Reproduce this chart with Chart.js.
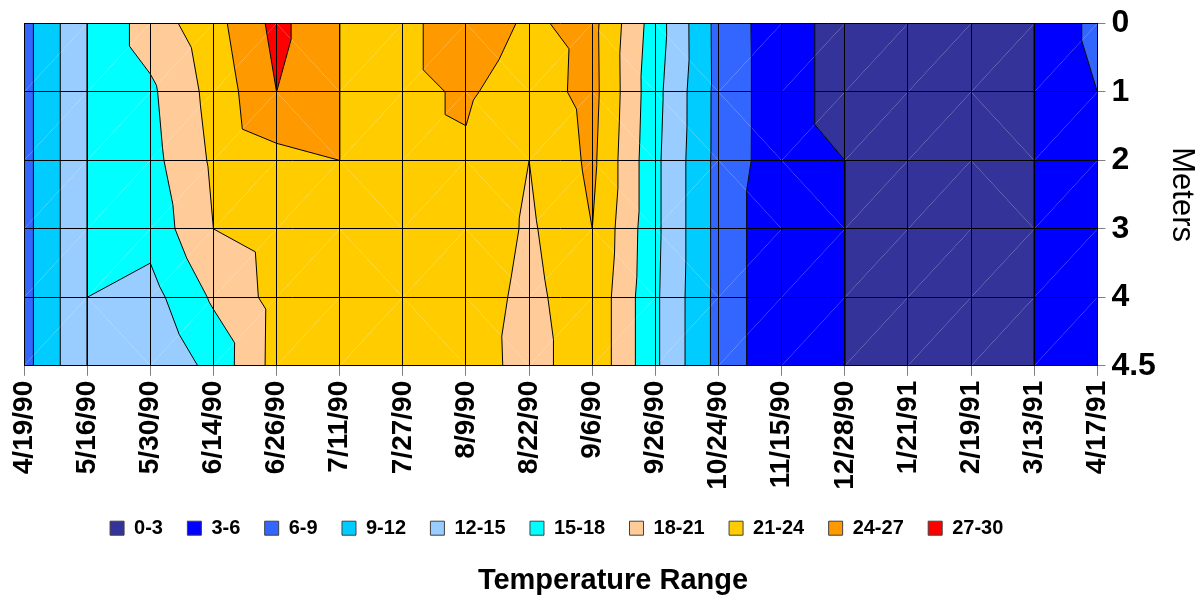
<!DOCTYPE html>
<html>
<head>
<meta charset="utf-8">
<title>Temperature Range</title>
<script src="https://cdn.jsdelivr.net/npm/chart.js@4.4.1/dist/chart.umd.min.js"></script>
<style>
  html, body { margin: 0; padding: 0; background: #fff; }
</style>
</head>
<body>
<canvas id="chart" width="1202" height="598"></canvas>
<script>
// Sampling dates along the x axis
const dates = ['4/19/90', '5/16/90', '5/30/90', '6/14/90', '6/26/90', '7/11/90', '7/27/90', '8/9/90', '8/22/90',
    '9/6/90', '9/26/90', '10/24/90', '11/15/90', '12/28/90', '1/21/91', '2/19/91', '3/13/91', '4/17/91'];

// Depth rows (meters), drawn as evenly spaced categories
const depthLabels = ['0', '1', '2', '3', '4', '4.5'];

// Water temperature (deg C) per date, one array per depth
const temp0m  = [7.95, 15, 19.48, 22.9, 27.9, 24, 23.19, 25.7, 23.55, 24.9, 16.5, 8.0, 4.1, 2.0, 1.6, 1.5, 3, 6.99];
const temp1m  = [7.95, 15, 17.47, 22.02, 27, 24, 23.19, 24.4, 22.46, 25.0, 15.96, 8.06, 4.1, 2.0, 1.6, 1.5, 3, 6];
const temp2m  = [7.95, 15, 17.04, 21.47, 23.0, 24, 23.19, 23.59, 21, 24.64, 15.68, 8.04, 4.1, 3, 1.7, 1.6, 3, 5.0];
const temp3m  = [7.95, 15, 16.07, 21, 22.3, 23.0, 22.8, 23.5, 20.52, 24, 15.68, 8.04, 3.45, 3, 1.8, 1.7, 3, 4.8];
const temp4m  = [7.95, 15, 13.93, 18.43, 22.04, 22.6, 22.6, 22.95, 20.0, 23.38, 15.5, 8.04, 3.45, 3, 1.8, 1.7, 3, 4.7];
const temp45m = [7.95, 15, 12.1, 15.96, 22.12, 22.4, 22.5, 23.08, 19.51, 23.38, 15.5, 8.04, 3.45, 3, 1.8, 1.7, 3, 4.6];

// Temperature bands
const bandEdges = [0, 3, 6, 9, 12, 15, 18, 21, 24, 27, 30];
const bandLabels = ['0-3', '3-6', '6-9', '9-12', '12-15', '15-18', '18-21', '21-24', '24-27', '27-30'];
const bandColors = ['#333399', '#0000FF', '#3366FF', '#00CCFF', '#99CCFF', '#00FFFF', '#FFCC99', '#FFCC00', '#FF9900', '#FF0000'];

const depthRows = [temp0m, temp1m, temp2m, temp3m, temp4m, temp45m];

// keep the part of a polygon where sign * (v - level) >= 0 (v is linear along edges)
function clip(poly, level, sign) {
    const out = [];
    for (let k = 0; k < poly.length; k++) {
        const a = poly[k];
        const b = poly[(k + 1) % poly.length];
        const inA = sign * (a.v - level) >= 0;
        const inB = sign * (b.v - level) >= 0;
        if (inA) out.push(a);
        if (inA !== inB) {
            const t = (level - a.v) / (b.v - a.v);
            out.push({ x: a.x + t * (b.x - a.x), y: a.y + t * (b.y - a.y), v: level });
        }
    }
    return out;
}

// segment where the level crosses a triangle, or null
function isoSegment(tri, level) {
    const pts = [];
    for (let k = 0; k < 3; k++) {
        const a = tri[k];
        const b = tri[(k + 1) % 3];
        if (a.v === level) {
            pts.push(a);
        } else if ((a.v - level) * (b.v - level) < 0) {
            const t = (level - a.v) / (b.v - a.v);
            pts.push({ x: a.x + t * (b.x - a.x), y: a.y + t * (b.y - a.y) });
        }
    }
    return pts.length === 2 ? pts : null;
}

// Draws the filled contour bands under the grid
const contourPlugin = {
    id: 'contour',
    afterLayout(chart) {
        // nudge the legend a little to the left, like the original
        chart.legend.left -= 4;
        chart.legend.right -= 4;
    },
    beforeDraw(chart) {
        const ctx = chart.ctx;
        const xScale = chart.scales.x;
        const yScale = chart.scales.y;
        const at = (i, j) => ({
            x: xScale.getPixelForValue(i),
            y: yScale.getPixelForValue(j),
            v: depthRows[j][i]
        });

        const tris = [];
        for (let j = 0; j < depthRows.length - 1; j++) {
            for (let i = 0; i < dates.length - 1; i++) {
                const tl = at(i, j), tr = at(i + 1, j), bl = at(i, j + 1), br = at(i + 1, j + 1);
                // split the cell along the diagonal whose ends differ most
                if (Math.abs(tl.v - br.v) > Math.abs(bl.v - tr.v)) {
                    tris.push([tl, tr, br], [tl, br, bl]);
                } else {
                    tris.push([tl, tr, bl], [bl, tr, br]);
                }
            }
        }

        ctx.save();
        tris.forEach(tri => {
            bandColors.forEach((color, b) => {
                const poly = clip(clip(tri, bandEdges[b], 1), bandEdges[b + 1], -1);
                if (poly.length < 3) return;
                ctx.beginPath();
                ctx.moveTo(poly[0].x, poly[0].y);
                for (let k = 1; k < poly.length; k++) ctx.lineTo(poly[k].x, poly[k].y);
                ctx.closePath();
                ctx.fillStyle = color;
                ctx.fill();
            });
        });

        ctx.strokeStyle = '#000';
        ctx.lineWidth = 1;
        tris.forEach(tri => {
            for (let b = 1; b < bandEdges.length - 1; b++) {
                const seg = isoSegment(tri, bandEdges[b]);
                if (!seg) continue;
                ctx.beginPath();
                ctx.moveTo(seg[0].x, seg[0].y);
                ctx.lineTo(seg[1].x, seg[1].y);
                ctx.stroke();
            }
        });
        ctx.restore();
    }
};

Chart.defaults.font.family = "'Liberation Sans', Arial, sans-serif";
Chart.defaults.color = '#000';

// legend-only datasets, one per band
const datasets = bandLabels.map((label, b) => ({
    label: label,
    data: [],
    backgroundColor: bandColors[b],
    borderColor: '#404040',
    borderWidth: 1
}));

new Chart(document.getElementById('chart'), {
    type: 'scatter',
    data: { datasets: datasets },
    plugins: [contourPlugin],
    options: {
        responsive: false,
        animation: false,
        devicePixelRatio: 1,
        layout: { padding: { top: 23.5, left: 24, right: 0, bottom: 0 } },
        scales: {
            x: {
                type: 'linear',
                min: 0,
                max: dates.length - 1,
                afterBuildTicks: s => { s.ticks = dates.map((d, i) => ({ value: i })); },
                afterFit: s => { s.height = 128; s.paddingLeft = 0; s.paddingRight = 0; },
                grid: { color: '#000', tickColor: '#808080', tickLength: 10, lineWidth: 1 },
                border: { color: '#000' },
                ticks: {
                    callback: v => dates[v],
                    autoSkip: false,
                    minRotation: 90,
                    maxRotation: 90,
                    padding: 5,
                    color: '#000',
                    font: { size: 28, weight: 'bold' }
                }
            },
            y: {
                type: 'linear',
                position: 'right',
                reverse: true,
                min: 0,
                max: depthLabels.length - 1,
                afterBuildTicks: s => { s.ticks = depthLabels.map((d, i) => ({ value: i })); },
                afterFit: s => { s.width = 104.6; s.paddingTop = 0; s.paddingBottom = 0; },
                grid: { color: '#000', tickColor: '#808080', tickLength: 8, lineWidth: 1 },
                border: { color: '#000' },
                ticks: {
                    callback: v => depthLabels[v],
                    padding: 6,
                    color: '#000',
                    font: { size: 32, weight: 'bold' }
                },
                title: {
                    display: true,
                    text: 'Meters',
                    color: '#000',
                    padding: { top: 5, bottom: 0 },
                    font: { size: 31, lineHeight: 1 }
                }
            }
        },
        plugins: {
            tooltip: { enabled: false },
            legend: {
                position: 'bottom',
                fullSize: false,
                maxHeight: 58,
                labels: {
                    boxWidth: 14,
                    boxHeight: 14,
                    padding: 24.4,
                    color: '#000',
                    font: { size: 20, weight: 'bold' }
                }
            },
            title: {
                display: true,
                position: 'bottom',
                text: 'Temperature Range',
                color: '#000',
                padding: { top: 15, bottom: 0 },
                font: { size: 29, weight: 'bold' }
            }
        }
    }
});
</script>
</body>
</html>
